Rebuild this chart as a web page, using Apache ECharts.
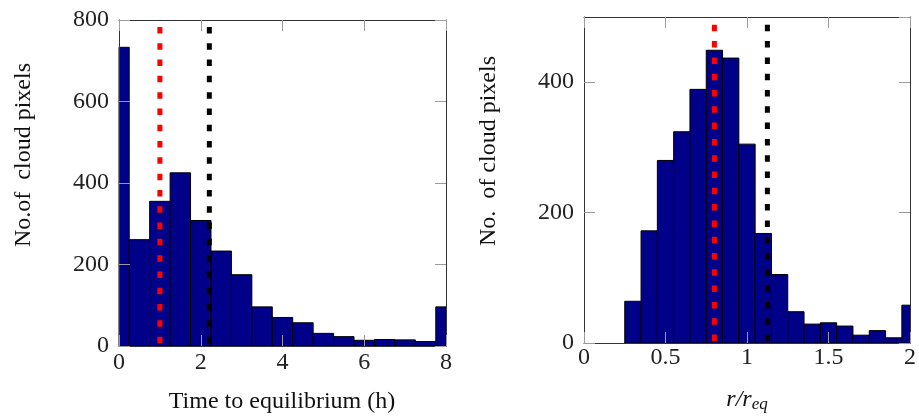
<!DOCTYPE html>
<html>
<head>
<meta charset="utf-8">
<script src="https://cdn.jsdelivr.net/npm/echarts@6/dist/echarts.min.js"></script>
<style>
html,body{margin:0;padding:0;background:#fff;}
#chart{width:919px;height:417px;}
</style>
</head>
<body>
<div id="chart"></div>
<script>
// ---- data ----
const leftBinCenters = [0, 0.5, 1, 1.5, 2, 2.5, 3, 3.5, 4, 4.5, 5, 5.5, 6, 6.5, 7, 7.5, 8];
const leftCounts = [733, 261, 355, 425, 308, 233, 175, 96, 70, 57, 31, 23, 14, 16, 15, 11, 96];
const leftBinWidth = 0.5;
const leftRedLine = 1.0;
const leftBlackLine = 2.21;
const leftLineTop = 783;
const leftXTicks = [0, 2, 4, 6, 8];
const leftYTicks = [0, 200, 400, 600, 800];

const rightBinCenters = [0.3, 0.4, 0.5, 0.6, 0.7, 0.8, 0.9, 1.0, 1.1, 1.2, 1.3, 1.4, 1.5, 1.6, 1.7, 1.8, 1.9, 2.0];
const rightCounts = [64, 172, 280, 324, 389, 449, 437, 305, 168, 105, 48, 29, 31, 26, 12, 19, 8, 58];
const rightBinWidth = 0.1;
const rightRedLine = 0.8;
const rightBlackLine = 1.125;
const rightLineTop = 488;
const rightXTicks = [0, 0.5, 1, 1.5, 2];
const rightYTicks = [0, 200, 400];

const leftXLabel = 'Time to equilibrium (h)';
const leftYLabel = 'No.of  cloud pixels';
const rightYLabel = 'No.  of cloud pixels';

// ---- styles ----
const FONT = '"Liberation Serif", "Times New Roman", serif';
const BAR_COLOR = '#000088';
const FRAME = '#333333';
const TICK = '#9a9a9a';

function histData(centers, counts, w) {
  return centers.map((c, i) => [c, counts[i], w]);
}

function renderBar(params, api) {
  const c = api.value(0), v = api.value(1), hw = api.value(2) / 2;
  const cs = params.coordSys;
  const pTop = api.coord([c - hw, v]);
  const pBot = api.coord([c + hw, 0]);
  let x0 = Math.max(pTop[0], cs.x);
  let x1 = Math.min(pBot[0], cs.x + cs.width);
  return {
    type: 'rect',
    shape: { x: x0, y: pTop[1], width: x1 - x0, height: pBot[1] - pTop[1] },
    style: { fill: BAR_COLOR, stroke: '#000', lineWidth: 1 }
  };
}

function mainX(gi, min, max, interval, margin) {
  return {
    type: 'value', gridIndex: gi, min: min, max: max, interval: interval, position: 'bottom', z: 3,
    axisLine: { show: true, onZero: false, lineStyle: { color: FRAME, width: 1 } },
    axisTick: { show: true, inside: true, length: 11, lineStyle: { color: TICK, width: 1 } },
    axisLabel: { show: true, margin: margin, color: '#222', fontFamily: FONT, fontSize: 24,
      formatter: v => String(v) },
    splitLine: { show: false }
  };
}
function topX(gi, min, max, interval) {
  return {
    type: 'value', gridIndex: gi, min: min, max: max, interval: interval, position: 'top', z: 3,
    axisLine: { show: true, onZero: false, lineStyle: { color: FRAME, width: 1 } },
    axisTick: { show: true, inside: true, length: 11, lineStyle: { color: TICK, width: 1 } },
    axisLabel: { show: false }, splitLine: { show: false }
  };
}
function mainY(gi, min, max, interval) {
  return {
    type: 'value', gridIndex: gi, min: min, max: max, interval: interval, position: 'left', z: 3,
    axisLine: { show: true, onZero: false, lineStyle: { color: FRAME, width: 1 } },
    axisTick: { show: true, inside: true, length: 11, lineStyle: { color: TICK, width: 1 } },
    axisLabel: { show: true, margin: 10, color: '#222', fontFamily: FONT, fontSize: 24, showMaxLabel: max % interval === 0 },
    splitLine: { show: false }
  };
}
function rightY(gi, min, max, interval) {
  return {
    type: 'value', gridIndex: gi, min: min, max: max, interval: interval, position: 'right', z: 3,
    axisLine: { show: true, onZero: false, lineStyle: { color: FRAME, width: 1 } },
    axisTick: { show: true, inside: true, length: 11, lineStyle: { color: TICK, width: 1 } },
    axisLabel: { show: false }, splitLine: { show: false }
  };
}

function vline(xi, yi, xv, top, color) {
  return {
    type: 'line', xAxisIndex: xi, yAxisIndex: yi, z: 5, symbol: 'none', silent: true,
    data: [[xv, top], [xv, 0]],
    lineStyle: { color: color, width: 5, type: [6.5, 9.8], cap: 'butt' }
  };
}

const chart = echarts.init(document.getElementById('chart'), null, { renderer: 'canvas' });
chart.setOption({
  animation: false,
  backgroundColor: '#fff',
  grid: [
    { left: 119, top: 20, width: 327, height: 326 },
    { left: 584, top: 17, width: 326, height: 326 }
  ],
  xAxis: [
    mainX(0, 0, 8, 2, 5),
    topX(0, 0, 8, 2),
    mainX(1, 0, 2, 0.5, 3),
    topX(1, 0, 2, 0.5)
  ],
  yAxis: [
    mainY(0, 0, 800, 200),
    rightY(0, 0, 800, 200),
    mainY(1, 0, 500, 200),
    rightY(1, 0, 500, 200)
  ],
  series: [
    { type: 'custom', xAxisIndex: 0, yAxisIndex: 0, z: 2, renderItem: renderBar,
      data: histData(leftBinCenters, leftCounts, leftBinWidth), encode: { x: 0, y: 1 } },
    { type: 'custom', xAxisIndex: 2, yAxisIndex: 2, z: 2, renderItem: renderBar,
      data: histData(rightBinCenters, rightCounts, rightBinWidth), encode: { x: 0, y: 1 } },
    vline(0, 0, leftRedLine, leftLineTop, '#ff0000'),
    vline(0, 0, leftBlackLine, leftLineTop, '#000000'),
    vline(2, 2, rightRedLine, rightLineTop, '#ff0000'),
    vline(2, 2, rightBlackLine, rightLineTop, '#000000')
  ],
  graphic: [
    { type: 'text', x: 282, y: 402, style: { text: leftXLabel, font: '24px ' + FONT, fill: '#111', align: 'center', verticalAlign: 'middle' } },
    { type: 'text', x: 747, y: 400, style: {
        text: '{i|r/r}{s|eq}', align: 'center', verticalAlign: 'middle',
        rich: {
          i: { fontFamily: FONT, fontSize: 24, fontStyle: 'italic', fill: '#111' },
          s: { fontFamily: FONT, fontSize: 17, fontStyle: 'italic', fill: '#111', padding: [10, 0, 0, 0] }
        } } },
    { type: 'text', x: 24, y: 155, rotation: Math.PI / 2, style: { text: leftYLabel, font: '24px ' + FONT, fill: '#111', align: 'center', verticalAlign: 'middle' } },
    { type: 'text', x: 489, y: 151, rotation: Math.PI / 2, style: { text: rightYLabel, font: '24px ' + FONT, fill: '#111', align: 'center', verticalAlign: 'middle' } }
  ]
});
</script>
</body>
</html>
